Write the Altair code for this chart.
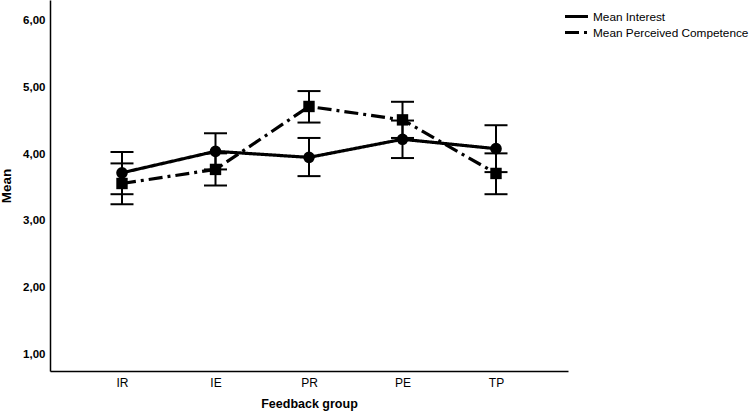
import altair as alt
import pandas as pd

groups = ["IR", "IE", "PR", "PE", "TP"]
series_names = ["Mean Interest", "Mean Perceived Competence"]

interest_mean = [3.72, 4.04, 3.95, 4.22, 4.08]
interest_lo = [3.40, 3.77, 3.67, 3.94, 3.73]
interest_hi = [4.03, 4.31, 4.24, 4.50, 4.43]

comp_mean = [3.56, 3.77, 4.71, 4.51, 3.71]
comp_lo = [3.25, 3.53, 4.47, 4.24, 3.40]
comp_hi = [3.86, 4.01, 4.94, 4.78, 4.01]

y_ticks = [1, 2, 3, 4, 5, 6]

rows = []
for name, m, lo, hi in [
    (series_names[0], interest_mean, interest_lo, interest_hi),
    (series_names[1], comp_mean, comp_lo, comp_hi),
]:
    for g, mv, lv, hv in zip(groups, m, lo, hi):
        rows.append({"group": g, "series": name, "mean": mv, "lo": lv, "hi": hv})
df = pd.DataFrame(rows)

FONT = "Liberation Sans"

x_enc = alt.X(
    "group:N",
    sort=groups,
    scale=alt.Scale(type="point", padding=0.77),
    axis=alt.Axis(
        title="Feedback group",
        titleFont=FONT,
        titleFontSize=12.5,
        titleFontWeight="bold",
        titleColor="black",
        titlePadding=9,
        labelFont=FONT,
        labelFontSize=12,
        labelFontWeight="normal",
        labelColor="black",
        labelPadding=6,
        labelAngle=0,
        ticks=False,
        domainColor="black",
        domainWidth=1.5,
        grid=False,
    ),
)

y_scale = alt.Scale(domain=[0.76, 6.3], nice=False, zero=False)
y_axis = alt.Axis(
    title="Mean",
    titleFont=FONT,
    titleFontSize=13.5,
    titleFontWeight="bold",
    titleColor="black",
    titlePadding=9,
    values=y_ticks,
    labelExpr="replace(format(datum.value, '.2f'), '.', ',')",
    labelFont=FONT,
    labelFontSize=11.5,
    labelFontWeight="bold",
    labelColor="black",
    labelPadding=5,
    ticks=False,
    domainColor="black",
    domainWidth=1.5,
    grid=False,
)

base = alt.Chart(df)

err_rule = base.mark_rule(color="black", strokeWidth=2).encode(
    x=x_enc,
    y=alt.Y("lo:Q", scale=y_scale, axis=y_axis),
    y2="hi:Q",
)

cap_lo = base.mark_tick(color="black", orient="horizontal", size=23, thickness=2, opacity=1).encode(
    x=alt.X("group:N", sort=groups),
    y=alt.Y("lo:Q"),
)
cap_hi = base.mark_tick(color="black", orient="horizontal", size=23, thickness=2, opacity=1).encode(
    x=alt.X("group:N", sort=groups),
    y=alt.Y("hi:Q"),
)

lines = base.mark_line(color="black", strokeWidth=3.2).encode(
    x=alt.X("group:N", sort=groups),
    y=alt.Y("mean:Q"),
    strokeDash=alt.StrokeDash(
        "series:N",
        scale=alt.Scale(domain=series_names, range=[[1, 0], [14, 5, 3, 5]]),
        legend=alt.Legend(
            title=None,
            orient="none",
            legendX=519,
            legendY=9,
            symbolType="M-2,0H2",
            symbolSize=132,
            symbolStrokeWidth=3,
            symbolStrokeColor="black",
            labelFont=FONT,
            labelFontSize=11.8,
            labelColor="black",
            labelOffset=9,
            rowPadding=1,
            padding=0,
        ),
    ),
)

interest_pts = (
    base.transform_filter(alt.datum.series == series_names[0])
    .mark_point(filled=True, color="black", opacity=1, size=135, shape="circle")
    .encode(x=alt.X("group:N", sort=groups), y=alt.Y("mean:Q"))
)
comp_pts = (
    base.transform_filter(alt.datum.series == series_names[1])
    .mark_point(filled=True, color="black", opacity=1, size=130, shape="square")
    .encode(x=alt.X("group:N", sort=groups), y=alt.Y("mean:Q"))
)

chart = (
    alt.layer(err_rule, cap_lo, cap_hi, lines, interest_pts, comp_pts)
    .properties(
        width=518,
        height=371,
        autosize=alt.AutoSizeParams(type="none"),
        padding={"left": 50, "top": 0, "right": 182, "bottom": 47},
        background="white",
    )
    .configure_view(stroke=None)
)

chart.save("out.html", embed_options={"renderer": "svg", "actions": False})
